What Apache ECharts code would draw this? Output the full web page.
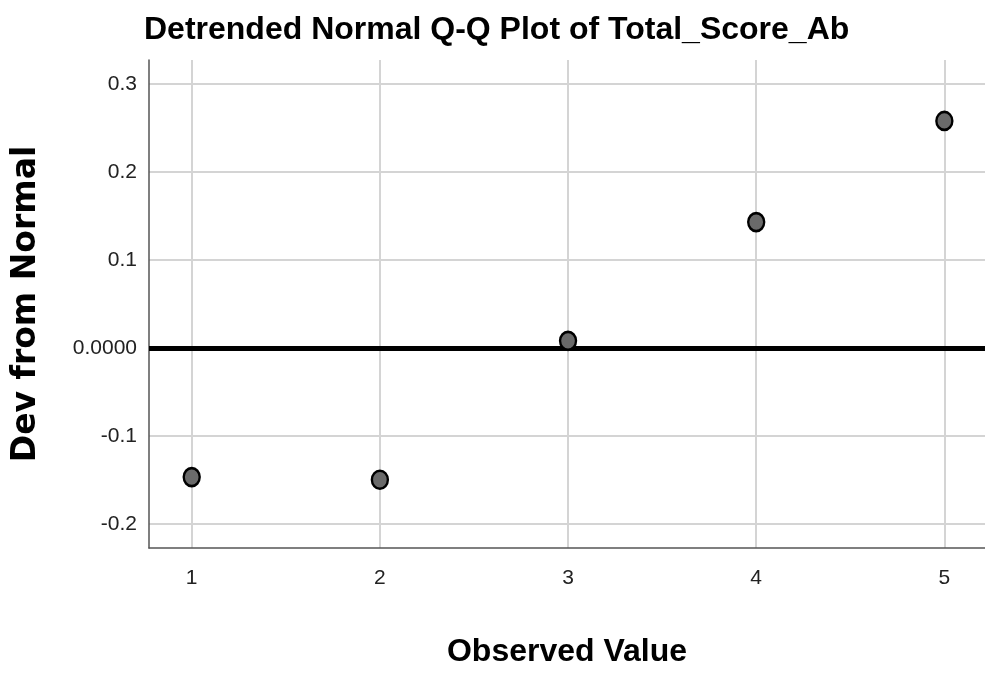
<!DOCTYPE html>
<html>
<head>
<meta charset="utf-8">
<script src="https://cdn.jsdelivr.net/npm/echarts@6/dist/echarts.min.js"></script>
<style>
  html, body { margin: 0; padding: 0; background: #fff; }
  #chart { width: 985px; height: 675px; }
</style>
</head>
<body>
<div id="chart"></div>
<script>
// observed values and their deviation from normal
const observed = [1, 2, 3, 4, 5]
const devFromNormal = [-0.147, -0.150, 0.008, 0.143, 0.258]
const referenceLevel = 0

const chart = echarts.init(document.getElementById('chart'), null, { renderer: 'canvas' })

const points = observed.map((x, i) => [x, devFromNormal[i]])

chart.setOption({
  animation: false,
  backgroundColor: '#fff',
  title: {
    text: 'Detrended Normal Q-Q Plot of Total_Score_Ab',
    left: 139,
    top: 9,
    textStyle: {
      fontFamily: '"Liberation Sans", Arial, sans-serif',
      fontWeight: 'bold',
      fontSize: 32,
      color: '#000'
    }
  },
  grid: { left: 149, right: 0, top: 60, bottom: 127 },
  xAxis: {
    type: 'value',
    min: 0.773,
    max: 5.216,
    splitNumber: 5,
    name: 'Observed Value',
    nameLocation: 'middle',
    nameGap: 88,
    nameTextStyle: {
      fontFamily: '"Liberation Sans", Arial, sans-serif',
      fontWeight: 'bold',
      fontSize: 32,
      color: '#000'
    },
    axisLine: { show: true, onZero: false, lineStyle: { color: '#555', width: 1.5 } },
    axisTick: { show: false },
    axisLabel: {
      showMinLabel: false,
      showMaxLabel: false,
      margin: 20,
      fontFamily: '"Liberation Sans", Arial, sans-serif',
      fontSize: 21,
      color: '#222'
    },
    splitLine: { show: true, showMinLine: false, showMaxLine: false, lineStyle: { color: '#d4d4d4', width: 2 } }
  },
  yAxis: {
    type: 'value',
    min: -0.2276,
    max: 0.3273,
    splitNumber: 5,
    name: 'Dev from Normal',
    nameLocation: 'middle',
    nameGap: 106,
    nameTextStyle: {
      fontFamily: '"DejaVu Sans", sans-serif',
      fontWeight: 'bold',
      fontSize: 33,
      color: '#000'
    },
    axisLine: { show: true, onZero: false, lineStyle: { color: '#555', width: 1.5 } },
    axisTick: { show: false },
    axisLabel: {
      showMinLabel: false,
      showMaxLabel: false,
      margin: 12,
      fontFamily: '"Liberation Sans", Arial, sans-serif',
      fontSize: 21,
      color: '#222',
      formatter: v => (Math.abs(v) < 1e-9 ? '0.0000' : v.toFixed(1))
    },
    splitLine: { show: true, showMinLine: false, showMaxLine: false, lineStyle: { color: '#d4d4d4', width: 2 } }
  },
  series: [{
    type: 'scatter',
    data: points,
    symbol: 'circle',
    symbolSize: [16, 18],
    itemStyle: { color: '#6a6a6a', borderColor: '#000', borderWidth: 2.5, opacity: 1 },
    z: 5,
    markLine: {
      silent: true,
      symbol: ['none', 'none'],
      label: { show: false },
      lineStyle: { color: '#000', width: 5, type: 'solid' },
      z: 3,
      data: [{ yAxis: referenceLevel }]
    }
  }]
})
</script>
</body>
</html>
